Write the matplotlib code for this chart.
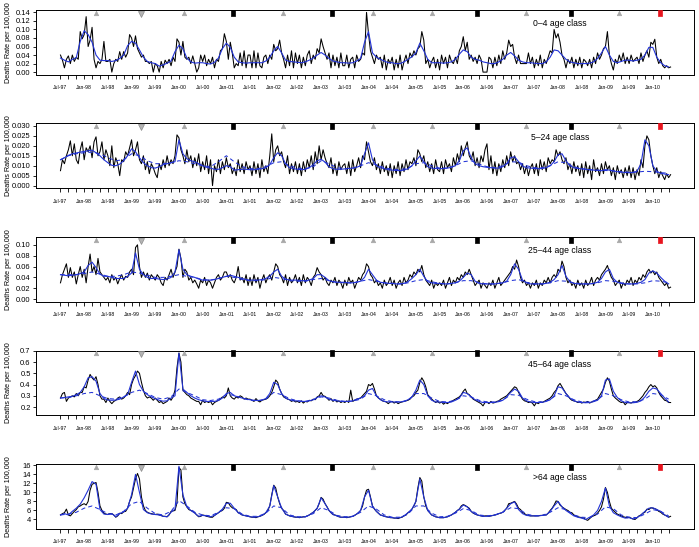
import numpy as np
import matplotlib
matplotlib.use("Agg")
import matplotlib.pyplot as plt
from matplotlib.transforms import blended_transform_factory

plt.rcParams["font.family"] = ["Liberation Sans", "DejaVu Sans"]

BLUE = "#2233d6"

# x axis: months since Jul-97, ticks every 2 months, labels every 6 months
tick_labels = ["Jul-97", "Jan-98", "Jul-98", "Jan-99", "Jul-99", "Jan-00", "Jul-00",
               "Jan-01", "Jul-01", "Jan-02", "Jul-02", "Jan-03", "Jul-03", "Jan-04",
               "Jul-04", "Jan-05", "Jul-05", "Jan-06", "Jul-06", "Jan-07", "Jul-07",
               "Jan-08", "Jul-08", "Jan-09", "Jul-09", "Jan-10"]

# markers at the top of every panel (month, kind)
marker_months = [9.0, 20.4, 31.2, 43.6, 56.4, 68.7, 79.1, 94.2, 105.4, 117.8, 129.4, 141.5, 151.9]
marker_kinds = ["tri", "down", "tri", "sq", "tri", "sq", "tri", "tri", "sq", "tri", "sq", "tri", "red"]

# ---- 0-4 age class (x 0.001), observed twice a month, fit monthly ----
obs_0_4 = [
    40, 28, 10, 30, 38, 20, 40, 25, 35, 30, 95, 78, 88, 130, 60, 75, 105, 30, 10, 25, 20, 30, 72, 25,
    25, 30, 0, 20, 30, 25, 48, 30, 48, 35, 45, 88, 80, 60, 85, 55, 45, 35, 40, 25, 25, 20, 25, 0,
    20, 15, 0, 25, 10, 28, 20, 30, 15, 35, 25, 78, 70, 40, 72, 35, 30, 35, 20, 38, 20, 0, 10, 40,
    25, 40, 15, 30, 20, 35, 10, 30, 25, 50, 55, 90, 72, 30, 70, 45, 10, 20, 15, 45, 15, 50, 10, 40,
    40, 10, 50, 10, 45, 15, 10, 35, 40, 20, 40, 30, 65, 50, 55, 75, 45, 30, 10, 40, 15, 50, 10, 45,
    20, 40, 10, 35, 15, 40, 50, 20, 40, 30, 55, 45, 78, 60, 45, 30, 45, 10, 40, 15, 35, 10, 45, 15,
    15, 40, 10, 30, 35, 10, 40, 25, 30, 45, 40, 140, 90, 50, 35, 20, 40, 30, 35, 10, 40, 5, 30, 20,
    35, 5, 30, 10, 40, 5, 25, 40, 20, 45, 35, 50, 40, 55, 60, 95, 75, 20, 30, 10, 25, 35, 10, 30,
    5, 40, 20, 35, 10, 40, 25, 20, 35, 20, 50, 60, 83, 50, 70, 30, 40, 25, 35, 20, 40, 30, 0, 0,
    0, 35, 30, 10, 35, 15, 40, 20, 50, 30, 45, 75, 60, 65, 35, 20, 40, 20, 20, 20, 20, 45, 20, 35,
    10, 30, 15, 40, 10, 30, 20, 35, 50, 45, 100, 80, 90, 70, 40, 30, 10, 30, 20, 35, 10, 30, 15, 35,
    10, 30, 25, 15, 30, 10, 35, 20, 45, 30, 40, 55, 60, 95, 40, 20, 5, 30, 20, 40, 25, 45, 20, 35,
    20, 40, 25, 30, 35, 20, 45, 25, 40, 50, 35, 70, 65, 77, 35, 20, 30, 15, 10, 15, 10, 12,
]
fit_0_4 = [
    33, 28, 24, 30, 34, 72, 97, 88, 70, 40, 28, 27,
    27, 25, 27, 32, 40, 62, 72, 68, 52, 35, 25, 22,
    20, 14, 17, 21, 26, 48, 63, 55, 33, 24, 21, 22,
    22, 20, 19, 23, 33, 55, 68, 58, 35, 24, 22, 21,
    22, 22, 22, 22, 26, 35, 50, 60, 45, 28, 25, 24,
    23, 22, 24, 28, 33, 40, 46, 40, 32, 26, 24, 22,
    22, 21, 22, 26, 32, 70, 95, 45, 35, 30, 26, 22,
    22, 20, 20, 24, 30, 36, 45, 68, 50, 30, 22, 22,
    22, 21, 22, 24, 30, 42, 52, 48, 35, 30, 28, 24,
    22, 20, 20, 24, 30, 40, 46, 38, 28, 24, 22, 22,
    21, 20, 20, 24, 35, 52, 50, 40, 30, 24, 22, 20,
    20, 20, 21, 24, 32, 45, 60, 40, 25, 22, 25, 28,
    28, 26, 28, 30, 40, 58, 58, 35, 22, 15, 12,
]

# ---- 5-24 age class (x 0.0001), baseline every 2 months ----
obs_5_24 = [
    75, 130, 110, 150, 180, 225, 150, 210, 130, 110, 180, 220, 130, 190, 170, 200, 140, 220, 245, 150, 170, 220, 130, 180,
    150, 100, 200, 90, 140, 110, 50, 130, 120, 170, 150, 190, 230, 150, 180, 220, 130, 110, 150, 80, 120, 60, 110, 90,
    60, 40, 110, 80, 130, 90, 150, 100, 130, 110, 150, 255, 240, 180, 150, 110, 180, 120, 150, 90, 140, 100, 160, 70,
    120, 80, 150, 60, 130, 0, 100, 70, 130, 60, 120, 80, 140, 90, 110, 60, 90, 50, 130, 70, 110, 60, 120, 80,
    100, 50, 120, 60, 110, 40, 130, 70, 100, 60, 150, 260, 120, 180, 200, 150, 170, 120, 90, 150, 60, 110, 70, 120,
    60, 110, 50, 120, 70, 130, 90, 150, 80, 170, 110, 200, 130, 180, 140, 110, 90, 140, 60, 110, 50, 120, 80, 100,
    110, 60, 120, 50, 130, 70, 100, 140, 90, 150, 130, 220, 170, 120, 100, 140, 80, 110, 60, 120, 70, 100, 50, 110,
    40, 100, 60, 120, 50, 110, 70, 130, 80, 120, 110, 140, 100, 180, 160, 120, 150, 90, 120, 70, 110, 60, 130, 80,
    70, 120, 60, 130, 90, 110, 70, 140, 100, 160, 120, 200, 150, 190, 220, 150, 130, 170, 100, 140, 90, 150, 120, 180,
    210, 80, 150, 60, 120, 50, 110, 70, 130, 90, 150, 100, 170, 120, 150, 110, 120, 80, 110, 60, 100, 50, 90, 110,
    60, 110, 50, 130, 80, 120, 70, 140, 110, 130, 120, 180, 150, 170, 130, 110, 140, 80, 110, 60, 120, 70, 100, 50,
    110, 40, 120, 60, 100, 30, 130, 70, 90, 50, 110, 60, 120, 80, 100, 50, 90, 30, 100, 60, 80, 40, 90, 50,
    100, 40, 90, 30, 80, 50, 130, 90, 200, 250, 230, 150, 100, 60, 90, 40, 70, 50, 30, 60, 40, 55,
]
fit_5_24 = [
    130, 140, 152, 160, 164, 168, 172, 175, 178, 165, 150, 130,
    115, 102, 100, 108, 125, 150, 185, 170, 140, 115, 100, 90,
    88, 95, 105, 110, 115, 120, 230, 160, 135, 125, 120, 110,
    100, 92, 88, 82, 82, 90, 100, 95, 78, 80, 82, 82,
    80, 80, 82, 85, 90, 105, 140, 165, 150, 110, 90, 85,
    82, 80, 82, 90, 105, 125, 132, 118, 95, 85, 82, 82,
    84, 86, 88, 92, 100, 160, 215, 130, 100, 90, 85, 80,
    78, 76, 75, 78, 85, 100, 125, 148, 120, 95, 88, 86,
    85, 86, 88, 92, 100, 125, 175, 190, 140, 110, 100, 95,
    92, 90, 88, 88, 95, 110, 140, 145, 120, 98, 90, 88,
    86, 85, 86, 90, 100, 120, 155, 160, 125, 100, 90, 86,
    84, 82, 80, 78, 76, 75, 80, 78, 74, 70, 68, 66,
    65, 66, 72, 110, 230, 200, 100, 72, 62, 58, 55,
]
base_5_24 = [
    130, 150, 160, 165, 168, 160, 140, 125, 130, 160, 150, 125, 110, 110, 115, 125, 120, 110, 100, 95,
    120, 150, 120, 95, 85, 85, 95, 115, 120, 100, 88, 85, 95, 125, 110, 90, 85, 88, 100, 115,
    105, 90, 82, 80, 88, 110, 115, 100, 88, 88, 100, 120, 125, 108, 95, 90, 100, 120, 118, 100,
    90, 90, 100, 120, 115, 95, 85, 80, 78, 76, 74, 70, 67, 68, 72, 70, 65, 62,
]

# ---- 25-44 age class (x 0.001) ----
obs_25_44 = [
    30, 45, 55, 65, 40, 58, 40, 50, 28, 45, 60, 40, 55, 30, 60, 83, 50, 60, 45, 75, 50, 45, 40, 35,
    40, 30, 45, 35, 40, 28, 38, 45, 35, 42, 40, 50, 55, 45, 95, 100, 60, 40, 50, 40, 48, 35, 45, 40,
    35, 45, 40, 30, 25, 40, 35, 45, 55, 40, 50, 60, 92, 75, 40, 55, 50, 35, 40, 30, 35, 28, 20, 35,
    30, 40, 25, 35, 30, 20, 30, 40, 45, 35, 40, 50, 50, 40, 45, 35, 30, 40, 60, 35, 40, 30, 45, 25,
    40, 25, 45, 30, 40, 20, 35, 45, 30, 40, 45, 35, 50, 65, 60, 45, 40, 30, 45, 25, 40, 30, 35, 45,
    30, 40, 25, 45, 30, 40, 35, 25, 40, 45, 58, 50, 45, 35, 40, 30, 25, 35, 30, 40, 25, 35, 30, 20,
    35, 25, 40, 30, 35, 20, 30, 40, 35, 45, 50, 65, 60, 45, 40, 30, 35, 25, 30, 20, 35, 25, 30, 40,
    25, 35, 20, 30, 35, 25, 40, 30, 35, 45, 40, 50, 45, 55, 50, 62, 45, 35, 30, 25, 35, 20, 30, 25,
    30, 25, 35, 20, 30, 40, 25, 35, 30, 40, 35, 45, 40, 50, 45, 55, 45, 35, 25, 30, 35, 20, 30, 25,
    20, 30, 25, 35, 20, 30, 40, 25, 30, 35, 40, 45, 50, 60, 55, 72, 60, 40, 30, 35, 25, 30, 20, 30,
    25, 35, 20, 30, 25, 35, 30, 40, 30, 40, 45, 40, 55, 50, 70, 60, 40, 30, 35, 25, 30, 20, 35, 25,
    30, 20, 35, 25, 30, 40, 25, 35, 40, 35, 45, 50, 55, 62, 50, 40, 35, 25, 30, 35, 20, 30, 25, 35,
    30, 40, 25, 35, 30, 40, 35, 45, 40, 50, 55, 48, 52, 45, 50, 40, 35, 30, 25, 30, 20, 22,
]
fit_25_44 = [
    45, 44, 43, 44, 45, 47, 50, 62, 68, 58, 46, 42,
    42, 40, 38, 38, 38, 42, 48, 85, 55, 45, 40, 38,
    38, 37, 36, 37, 40, 50, 91, 55, 45, 42, 40, 37,
    35, 35, 35, 36, 38, 40, 42, 44, 42, 40, 38, 36,
    35, 35, 35, 36, 38, 42, 50, 55, 42, 37, 35, 35,
    35, 34, 34, 35, 38, 45, 45, 40, 34, 32, 31, 31,
    31, 30, 30, 31, 33, 40, 55, 45, 35, 31, 30, 29,
    29, 28, 28, 29, 32, 38, 45, 55, 42, 32, 30, 29,
    29, 28, 28, 29, 30, 33, 40, 48, 45, 33, 29, 28,
    28, 28, 28, 29, 30, 33, 45, 65, 55, 35, 30, 28,
    28, 28, 28, 29, 31, 36, 45, 62, 42, 32, 29, 28,
    28, 28, 28, 29, 31, 38, 50, 55, 38, 31, 29, 28,
    28, 28, 29, 31, 36, 48, 52, 48, 40, 33, 28,
]
base_25_44 = [
    45, 45, 45, 47, 50, 46, 42, 42, 45, 50, 48, 44, 40, 40, 42, 45, 42, 40, 36, 35,
    38, 42, 40, 36, 34, 34, 36, 40, 38, 34, 33, 33, 36, 38, 34, 31, 30, 30, 33, 36,
    33, 30, 29, 28, 30, 34, 36, 32, 29, 28, 30, 34, 34, 30, 28, 28, 30, 34, 36, 31,
    28, 28, 30, 34, 33, 30, 28, 28, 30, 34, 33, 30, 28, 28, 30, 34, 33, 30,
]

# ---- 45-64 age class (x 0.001) ----
obs_45_64 = [
    280, 320, 330, 250, 280, 290, 300, 290, 320, 300, 330, 330, 380, 370, 440, 490, 460, 440, 470, 400, 300, 270, 270, 240,
    280, 250, 230, 250, 260, 280, 290, 270, 280, 300, 330, 310, 400, 450, 480, 520, 500, 420, 350, 300, 280, 290, 280, 260,
    280, 260, 240, 250, 230, 240, 250, 280, 260, 290, 350, 550, 680, 600, 350, 330, 310, 300, 280, 270, 260, 250, 250, 220,
    260, 240, 250, 240, 250, 220, 240, 250, 260, 270, 290, 280, 300, 370, 300, 280, 270, 290, 280, 300, 290, 270, 280, 270,
    270, 260, 250, 275, 255, 245, 260, 265, 270, 280, 300, 330, 380, 440, 420, 360, 320, 290, 280, 270, 265, 250, 260, 245,
    250, 240, 255, 235, 250, 245, 260, 255, 270, 265, 290, 300, 330, 300, 295, 280, 260, 275, 250, 265, 245, 255, 240, 250,
    240, 255, 240, 350, 250, 260, 270, 275, 280, 300, 320, 340, 400, 390, 410, 360, 300, 280, 270, 255, 250, 245, 230, 245,
    250, 235, 245, 230, 240, 245, 250, 255, 260, 270, 290, 300, 330, 350, 420, 460, 430, 380, 310, 290, 270, 255, 240, 250,
    235, 245, 225, 240, 230, 245, 250, 260, 270, 280, 290, 310, 340, 360, 320, 310, 290, 270, 260, 250, 240, 230, 210, 240,
    245, 230, 250, 235, 240, 250, 255, 270, 280, 290, 300, 320, 340, 360, 380, 370, 330, 300, 270, 255, 250, 240, 245, 235,
    210, 240, 230, 245, 240, 250, 260, 270, 280, 300, 330, 350, 390, 410, 380, 350, 320, 300, 275, 260, 255, 250, 240, 245,
    235, 245, 240, 250, 235, 245, 250, 260, 270, 300, 330, 360, 420, 460, 430, 360, 300, 280, 265, 250, 240, 245, 220, 240,
    240, 235, 245, 240, 250, 260, 280, 300, 330, 350, 380, 400, 380, 390, 370, 330, 300, 280, 260, 255, 240, 240,
]
fit_45_64 = [
    280, 285, 290, 295, 310, 330, 380, 460, 470, 430, 320, 275,
    262, 260, 262, 270, 290, 310, 420, 520, 400, 340, 310, 290,
    275, 260, 252, 255, 280, 300, 680, 360, 330, 300, 280, 265,
    255, 250, 250, 250, 258, 280, 320, 330, 300, 290, 280, 270,
    265, 260, 258, 262, 275, 320, 420, 400, 320, 280, 265, 255,
    255, 250, 250, 255, 265, 285, 300, 290, 270, 260, 255, 250,
    250, 250, 255, 270, 280, 300, 350, 365, 300, 265, 250, 245,
    245, 245, 245, 250, 265, 290, 350, 440, 400, 300, 260, 245,
    245, 240, 240, 245, 260, 280, 330, 320, 290, 265, 250, 240,
    240, 240, 242, 248, 260, 290, 330, 360, 340, 280, 255, 245,
    240, 240, 242, 250, 265, 300, 380, 370, 320, 280, 255, 245,
    240, 238, 240, 248, 260, 300, 440, 450, 340, 285, 255, 240,
    238, 238, 242, 255, 290, 340, 370, 360, 320, 280, 245,
]
base_45_64 = [
    280, 285, 300, 320, 330, 300, 275, 270, 290, 330, 350, 320, 285, 270, 290, 360, 330, 300, 265, 258,
    270, 310, 305, 280, 260, 255, 270, 330, 310, 275, 255, 250, 265, 290, 280, 260, 250, 252, 270, 320,
    300, 265, 248, 245, 260, 320, 320, 280, 250, 245, 260, 300, 290, 260, 245, 245, 260, 310, 305, 270,
    248, 245, 265, 320, 300, 265, 245, 245, 265, 320, 300, 265, 245, 248, 270, 320, 310, 270,
]

# ---- >64 age class ----
obs_64 = [
    5.0, 5.3, 5.5, 6.3, 5.0, 4.8, 5.3, 5.8, 6.2, 6.8, 7.0, 7.3, 7.5, 7.2, 8.0, 10.5, 11.8, 12.0, 12.2, 10.0, 7.0, 6.0, 5.4, 5.2,
    5.1, 5.3, 5.3, 5.0, 4.5, 4.8, 5.4, 5.3, 5.7, 5.8, 6.5, 8.0, 9.0, 11.0, 13.0, 14.2, 13.0, 9.0, 7.0, 6.0, 5.6, 5.4, 5.3, 5.2,
    5.1, 5.2, 5.0, 4.9, 4.7, 4.7, 4.6, 5.0, 5.8, 5.9, 6.0, 7.7, 15.5, 15.0, 9.0, 7.5, 6.8, 6.2, 6.0, 5.8, 5.5, 5.0, 4.6, 4.7,
    5.0, 4.9, 4.7, 4.6, 4.5, 4.5, 4.9, 5.2, 5.5, 5.8, 6.0, 6.5, 7.8, 7.7, 7.0, 6.6, 6.4, 6.2, 5.5, 5.3, 5.0, 4.9, 4.8, 4.7,
    4.6, 4.5, 4.5, 4.4, 4.6, 4.7, 4.9, 5.1, 5.5, 6.0, 7.0, 9.5, 11.6, 11.0, 9.0, 7.5, 6.5, 6.0, 5.2, 5.0, 4.8, 4.7, 4.6, 4.5,
    4.5, 4.4, 4.5, 4.6, 4.6, 4.8, 5.0, 5.3, 5.6, 6.0, 6.5, 7.5, 8.9, 8.5, 7.5, 6.8, 6.0, 5.5, 5.1, 5.0, 4.8, 4.6, 4.5, 4.5,
    4.5, 4.4, 4.5, 4.6, 4.7, 4.9, 5.2, 5.5, 6.0, 7.0, 9.0, 10.5, 10.7, 9.0, 7.0, 6.3, 5.8, 5.4, 5.0, 4.9, 4.7, 4.6, 4.5, 4.4,
    4.4, 4.3, 4.3, 4.2, 4.4, 4.5, 4.8, 5.0, 5.5, 5.8, 6.3, 7.0, 8.0, 11.0, 13.3, 12.5, 9.0, 7.0, 6.0, 5.5, 5.0, 4.8, 4.6, 4.5,
    4.4, 4.4, 4.4, 4.5, 4.6, 4.8, 5.0, 5.3, 5.6, 6.0, 6.3, 7.0, 7.3, 7.1, 6.8, 6.5, 5.8, 5.4, 5.2, 5.0, 4.9, 4.8, 4.7, 4.8,
    4.8, 4.7, 4.8, 4.9, 5.0, 5.1, 5.3, 5.4, 5.6, 6.0, 6.5, 7.5, 7.6, 7.8, 8.0, 7.4, 6.5, 6.2, 5.6, 5.3, 5.0, 4.9, 4.8, 4.8,
    4.8, 4.8, 4.8, 4.9, 4.9, 5.0, 5.0, 5.4, 6.0, 6.5, 7.2, 8.1, 8.0, 7.2, 6.8, 6.5, 6.2, 6.0, 5.6, 5.5, 5.0, 4.8, 4.6, 4.5,
    4.4, 4.3, 4.0, 3.8, 4.2, 4.6, 4.8, 5.0, 5.4, 6.0, 6.8, 8.5, 11.1, 10.0, 8.0, 6.5, 6.0, 5.6, 5.2, 5.0, 4.8, 4.6, 4.5, 4.4,
    4.5, 4.3, 4.1, 4.0, 4.4, 4.8, 5.0, 5.4, 5.6, 6.3, 6.2, 6.6, 6.5, 6.4, 6.2, 5.8, 5.6, 5.2, 5.0, 4.8, 4.5, 4.7,
]
fit_64 = [
    5.0, 5.3, 5.0, 5.8, 6.5, 7.4, 8.8, 10.5, 12.4, 11.8, 6.2, 5.2,
    5.1, 5.3, 4.6, 5.3, 5.7, 6.5, 9.5, 14.0, 10.0, 6.2, 5.5, 5.2,
    5.1, 5.0, 4.7, 4.6, 5.6, 6.3, 15.8, 9.5, 6.8, 6.0, 5.4, 4.7,
    4.9, 4.8, 4.6, 4.9, 5.5, 6.3, 7.6, 7.6, 6.5, 5.5, 5.0, 4.8,
    4.6, 4.5, 4.6, 4.9, 5.5, 7.0, 11.5, 9.0, 6.5, 5.2, 4.8, 4.6,
    4.5, 4.5, 4.6, 5.0, 5.6, 6.5, 8.8, 7.5, 6.0, 5.1, 4.8, 4.5,
    4.5, 4.5, 4.7, 5.2, 6.0, 9.0, 10.5, 7.0, 5.8, 5.0, 4.7, 4.5,
    4.4, 4.3, 4.4, 4.8, 5.5, 6.3, 8.0, 13.0, 9.0, 6.0, 5.0, 4.6,
    4.4, 4.4, 4.6, 5.0, 5.6, 6.3, 7.2, 6.8, 5.8, 5.2, 4.9, 4.7,
    4.7, 4.8, 5.0, 5.3, 5.6, 6.5, 7.5, 7.9, 6.2, 5.3, 4.9, 4.8,
    4.8, 4.8, 4.9, 5.0, 5.8, 7.0, 8.0, 6.8, 6.0, 5.4, 4.8, 4.5,
    4.3, 4.0, 4.5, 5.0, 6.0, 8.0, 11.0, 7.0, 5.5, 5.0, 4.6, 4.3,
    4.4, 4.1, 4.4, 5.0, 5.8, 6.5, 6.6, 6.2, 5.8, 5.0, 4.5,
]
base_64 = [
    5.0, 5.2, 5.6, 6.5, 7.0, 6.2, 5.3, 5.0, 5.8, 7.5, 8.0, 6.5, 5.3, 5.0, 5.8, 8.2, 7.0, 5.6, 5.0, 4.8,
    5.6, 6.6, 6.4, 5.2, 4.7, 4.7, 5.4, 7.0, 6.6, 5.0, 4.6, 4.6, 5.3, 6.6, 6.0, 4.9, 4.6, 4.7, 5.6, 7.0,
    6.3, 5.0, 4.5, 4.5, 5.2, 7.0, 7.0, 5.4, 4.6, 4.7, 5.4, 6.4, 6.0, 5.0, 4.8, 5.0, 5.6, 6.6, 6.4, 5.2,
    4.8, 4.9, 5.6, 6.6, 6.2, 5.0, 4.5, 4.4, 5.2, 6.8, 6.4, 5.0, 4.5, 4.4, 5.2, 6.2, 5.8, 4.8,
]

panels = [
    dict(obs=obs_0_4, fit=fit_0_4, base=None, scale=1e-3, label="0\u20134 age class",
         ylim=(-0.0056, 0.1456), yticks=np.arange(0, 0.141, 0.02), fmt="{:.2f}"),
    dict(obs=obs_5_24, fit=fit_5_24, base=base_5_24, scale=1e-4, label="5\u201324 age class",
         ylim=(-0.0012, 0.0312), yticks=np.arange(0, 0.0301, 0.005), fmt="{:.3f}"),
    dict(obs=obs_25_44, fit=fit_25_44, base=base_25_44, scale=1e-3, label="25\u201344 age class",
         ylim=(-0.0044, 0.1144), yticks=np.arange(0, 0.101, 0.02), fmt="{:.2f}"),
    dict(obs=obs_45_64, fit=fit_45_64, base=base_45_64, scale=1e-3, label="45\u201364 age class",
         ylim=(0.129, 0.703), yticks=np.arange(0.2, 0.701, 0.1), fmt="{:.1f}"),
    dict(obs=obs_64, fit=fit_64, base=base_64, scale=1.0, label=">64 age class",
         ylim=(2.0, 16.3), yticks=np.arange(4, 16.1, 2), fmt="{:.0f}"),
]


def draw_markers(ax):
    trans = blended_transform_factory(ax.transData, ax.transAxes)
    rect = [(-0.55, -1), (0.55, -1), (0.55, 1), (-0.55, 1), (-0.55, -1)]
    styles = {
        "tri": dict(marker="^", ms=3.2, color="#a8a8a8", ec="#a8a8a8", y=0.955),
        "down": dict(marker="v", ms=4.4, color="#b4b4b4", ec="#8c8c8c", y=0.94),
        "sq": dict(marker=rect, ms=5.0, color="black", ec="black", y=0.955),
        "red": dict(marker=rect, ms=5.0, color="#e8141e", ec="#e8141e", y=0.955),
    }
    for kind, st in styles.items():
        xs = [m for m, k in zip(marker_months, marker_kinds) if k == kind]
        ax.plot(xs, [st["y"]] * len(xs), ls="none", marker=st["marker"], ms=st["ms"],
                color=st["color"], mec=st["ec"], mew=0.5, transform=trans, clip_on=False,
                zorder=5)


def draw_panel(ax, p):
    obs = np.array(p["obs"], dtype=float) * p["scale"]
    fit = np.array(p["fit"], dtype=float) * p["scale"]
    ax.plot(np.arange(len(obs)) / 2, obs, color="black", lw=0.75, zorder=2)
    if p["base"] is not None:
        base = np.array(p["base"], dtype=float) * p["scale"]
        ax.plot(np.arange(len(base)) * 2, base, color=BLUE, lw=0.75, ls=(0, (4, 3)), zorder=3)
    ax.plot(np.arange(len(fit)), fit, color=BLUE, lw=0.8, zorder=3)

    ax.set_xlim(-6.2, 160.3)
    ax.set_ylim(*p["ylim"])
    xt = np.arange(0, 155, 2)
    ax.set_xticks(xt)
    ax.set_xticklabels([tick_labels[t // 6] if t % 6 == 0 else "" for t in xt])
    ax.set_yticks(p["yticks"])
    ax.set_yticklabels([p["fmt"].format(v) for v in p["yticks"]])
    ax.tick_params(axis="x", length=3.2, width=0.6, labelsize=3.7, pad=4.5)
    ax.tick_params(axis="y", length=2.3, width=0.6, labelsize=5.4, pad=1.5)
    for sp in ax.spines.values():
        sp.set_linewidth(0.7)
    ax.set_ylabel("Deaths Rate per 100,000", fontsize=5.2)
    ax.yaxis.set_label_coords(-0.037, 0.5)
    ax.text(0.797, 0.79, p["label"], transform=ax.transAxes, ha="center", va="center",
            fontsize=6.2)
    draw_markers(ax)


def main():
    W, H = 699, 547
    fig = plt.figure(figsize=(W / 100, H / 100), dpi=100)
    tops = [10, 123.5, 237, 350.5, 464]
    height = 64.5
    for top, p in zip(tops, panels):
        ax = fig.add_axes([36 / W, 1 - (top + height) / H, 657.5 / W, height / H])
        draw_panel(ax, p)
    fig.savefig("out.png", dpi=100)


if __name__ == "__main__":
    main()
